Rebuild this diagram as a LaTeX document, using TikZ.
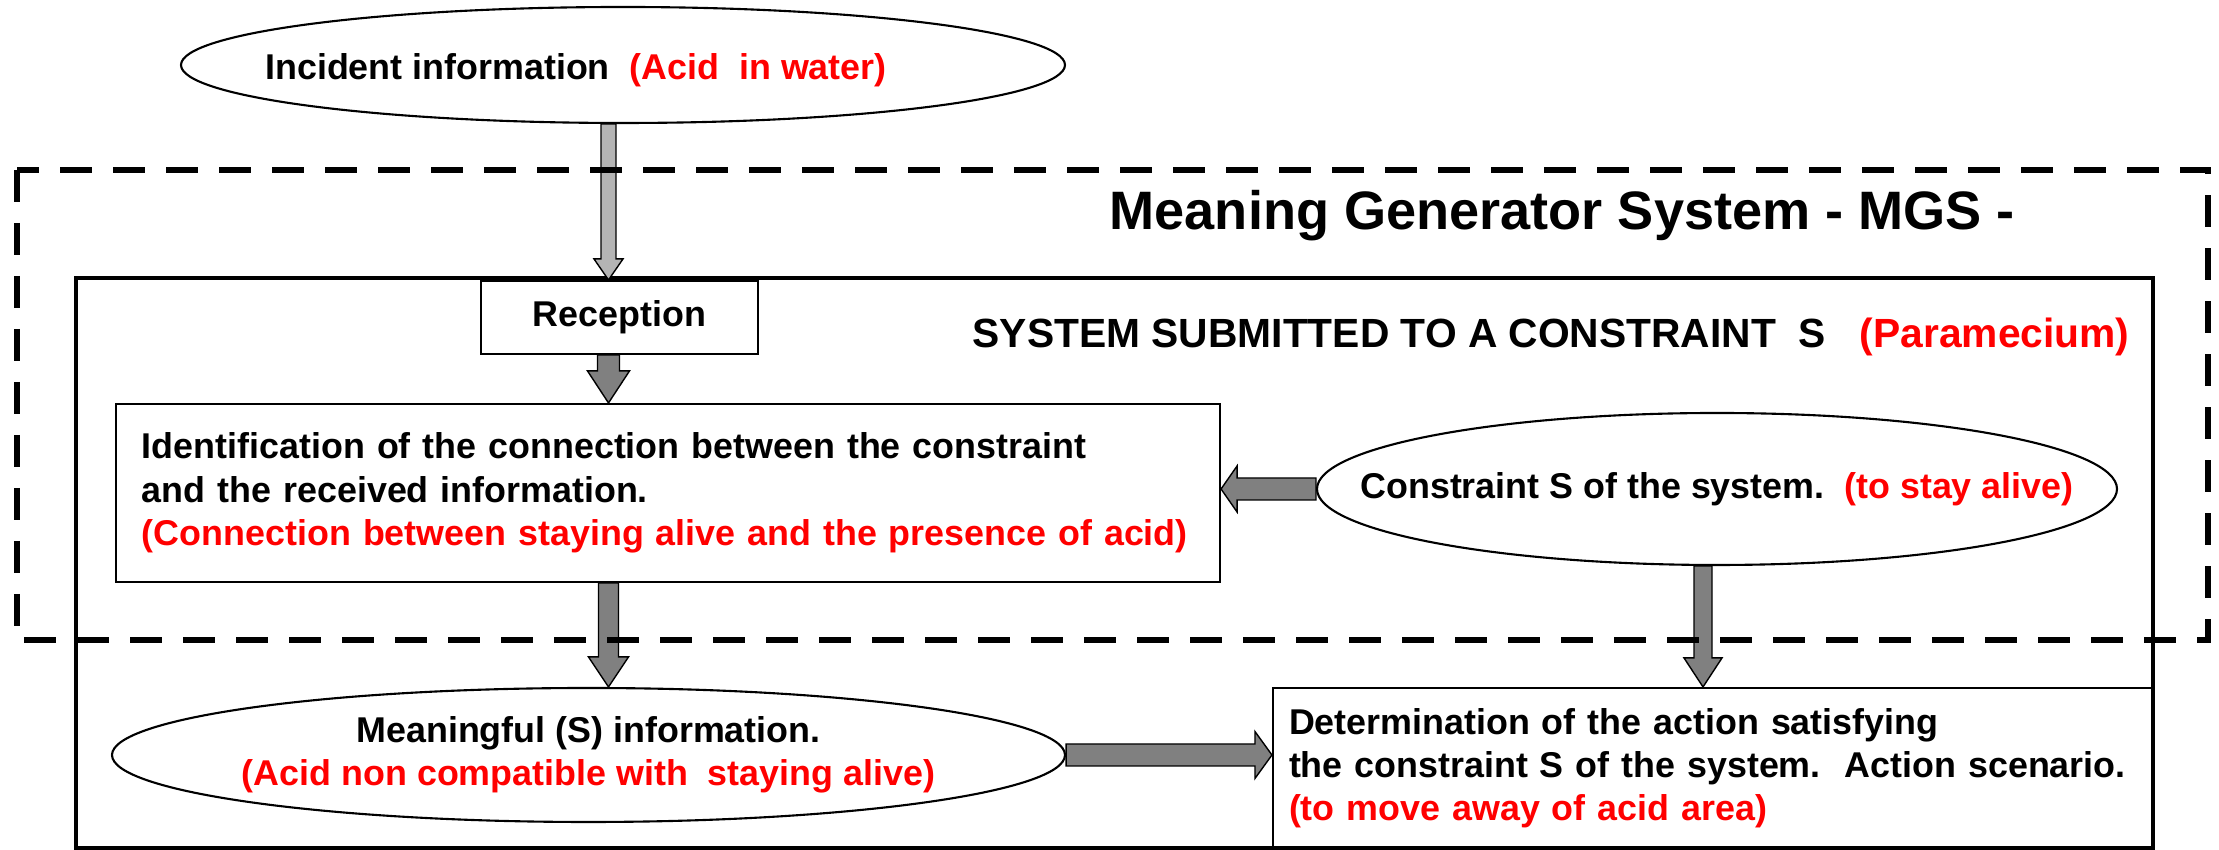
\documentclass[tikz,border=0pt]{standalone}
\usepackage{fontspec}
\setmainfont{Liberation Sans}
\usetikzlibrary{calc,shapes.geometric}

\definecolor{arrowgray}{RGB}{128,128,128}
\definecolor{lightarrow}{RGB}{180,180,180}

% block arrow: [fill]{tail}{tip}{half shaft}{head length}{half head}
\newcommand{\blockarrow}[6][arrowgray]{%
  \coordinate (ba-base) at ($(#3)!#5!(#2)$);
  \draw[line width=0.4pt, fill=#1] ($(#2)!#4!90:(#3)$) -- ($(ba-base)!#4!-90:(#2)$)
    -- ($(ba-base)!#6!-90:(#2)$) -- (#3) -- ($(ba-base)!#6!90:(#2)$)
    -- ($(ba-base)!#4!90:(#2)$) -- ($(#2)!#4!-90:(#3)$) -- cycle;
}

\begin{document}
\frenchspacing
\begin{tikzpicture}[
  every node/.style={font=\fontsize{10.2}{12.3}\selectfont\bfseries},
  mgsoval/.style={draw, ellipse, line width=0.6pt, inner sep=0pt},
  mgsbox/.style={draw, rectangle, line width=0.6pt, inner sep=0pt},
  outerframe/.style={line width=1.2pt},
  mgsdash/.style={line width=1.7pt, dash pattern=on 0.32cm off 0.21cm}]
\useasboundingbox (0,0) rectangle (22.19,-8.5);
\draw[outerframe] (0.76,-2.78) rectangle (21.53,-8.48);
\node[mgsoval, minimum width=8.84cm, minimum height=1.16cm] (incident) at (6.23,-0.65) {};
\node[xshift=-0.47cm, yshift=-0.05cm] (incident-txt) at (incident) {Incident information~ \textcolor{red}{(Acid~ in water)}};
\node[anchor=base west, inner sep=0pt, font=\fontsize{15.4}{18}\selectfont\bfseries] (mgs) at (11.09,-2.30) {Meaning Generator System - MGS -};
\node[anchor=base west, inner sep=0pt, font=\fontsize{11.6}{14}\selectfont\bfseries] (constrained) at (9.72,-3.48) {SYSTEM SUBMITTED TO A CONSTRAINT~ S~~ \textcolor{red}{(Paramecium)}};
\node[mgsbox, minimum width=2.77cm, minimum height=0.73cm] (reception) at (6.195,-3.175) {Reception};
\node[mgsbox, minimum width=11.04cm, minimum height=1.78cm, text width=10.52cm, align=left] (ident) at (6.68,-4.93) {Identification of the connection between the constraint\\ and the received information.\\ \textcolor{red}{(Connection between staying alive and the presence of acid)}};
\node[mgsoval, minimum width=8cm, minimum height=1.52cm] (constraint) at (17.17,-4.89) {};
\node (constraint-txt) at (constraint) {Constraint S of the system.~ \textcolor{red}{(to stay alive)}};
\node[mgsoval, minimum width=9.53cm, minimum height=1.34cm] (meaning) at (5.885,-7.55) {};
\node[align=center] (meaning-txt) at (meaning) {Meaningful (S) information.\\ \textcolor{red}{(Acid non compatible with~ staying alive)}};
\node[mgsbox, minimum width=8.80cm, minimum height=1.60cm, text width=8.48cm, align=left] (determ) at (17.13,-7.68) {Determination of the action satisfying\\ the constraint S of the system.~ Action scenario.\\ \textcolor{red}{(to move away of acid area)}};
% arrows
\coordinate (axis) at ($(reception.north)+(-0.11,0)$);
\coordinate (a-in) at (incident.south -| axis);
\blockarrow[lightarrow]{a-in}{axis}{0.075cm}{0.21cm}{0.145cm}
\coordinate (a-rec) at (reception.south -| axis);
\coordinate (a-id) at (ident.north -| axis);
\blockarrow{a-rec}{a-id}{0.11cm}{0.32cm}{0.21cm}
\coordinate (b-id) at (ident.south -| axis);
\coordinate (b-me) at (meaning.north -| axis);
\blockarrow{b-id}{b-me}{0.10cm}{0.30cm}{0.20cm}
\coordinate (c-id) at (constraint.west -| ident.east);
\blockarrow{constraint.west}{c-id}{0.11cm}{0.16cm}{0.23cm}
\coordinate (c-out) at ($(constraint.south)+(-0.14,0)$);
\coordinate (c-de) at (c-out |- determ.north);
\blockarrow{c-out}{c-de}{0.09cm}{0.29cm}{0.19cm}
\coordinate (m-de) at (meaning.east -| determ.west);
\blockarrow{meaning.east}{m-de}{0.11cm}{0.17cm}{0.235cm}
\draw[mgsdash] (0.17,-1.70) rectangle (22.08,-6.40);
\end{tikzpicture}
\end{document}
